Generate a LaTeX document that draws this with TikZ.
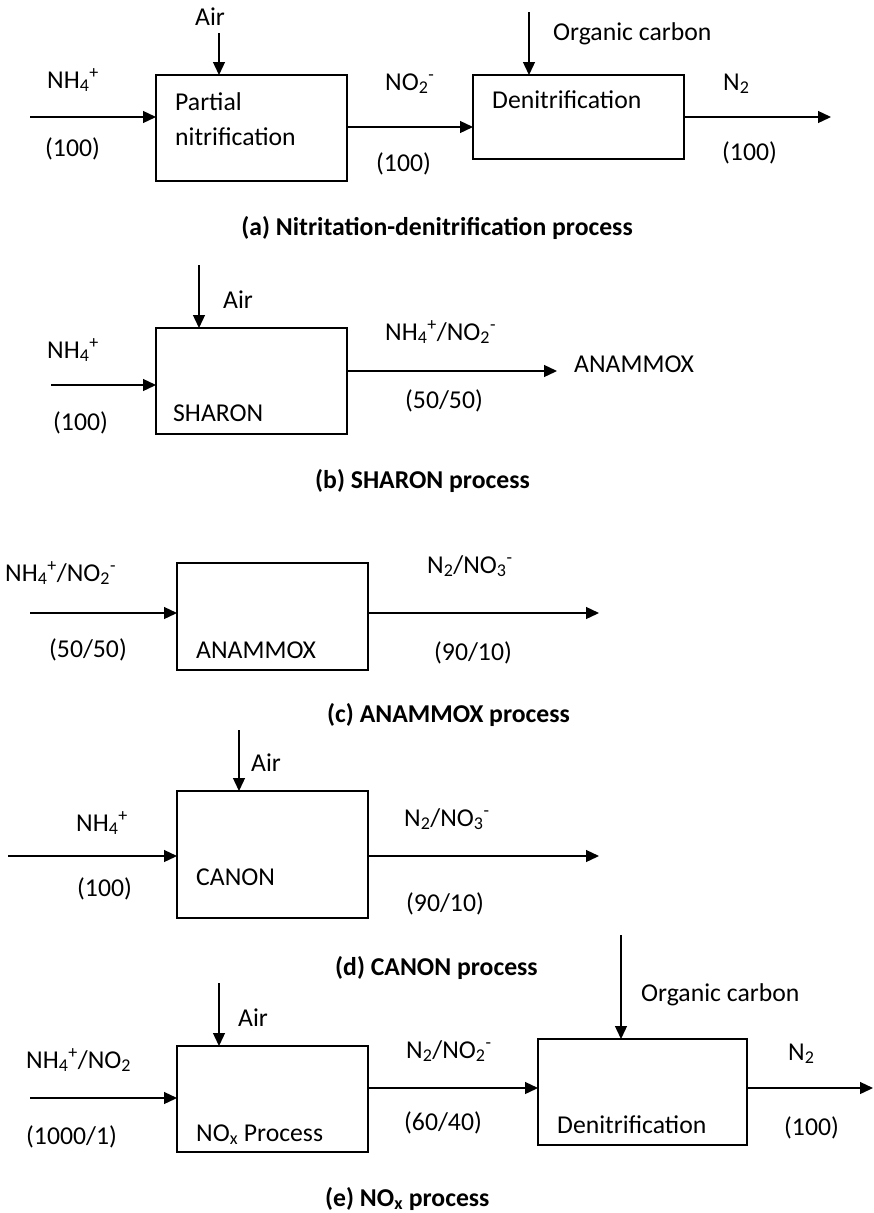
\documentclass[tikz,border=0pt]{standalone}
\usepackage{fontspec}
\setmainfont{Carlito}
\usetikzlibrary{arrows.meta}
\begin{document}
\begin{tikzpicture}[x=1pt,y=-1pt,
  lbl/.style={anchor=base west, inner sep=0pt, font=\fontsize{25.7}{30}\selectfont},
  captext/.style={anchor=base west, inner sep=0pt, font=\fontsize{25.7}{30}\selectfont\bfseries},
  box/.style={draw, line width=2pt, inner sep=0pt, outer sep=0pt},
  arr/.style={line width=1.3pt, -{Triangle[length=13pt,width=12pt]}}]
\useasboundingbox (0,0) rectangle (874,1213);

% ---------------- (a) ----------------
\node[box, minimum width=191pt, minimum height=106pt] (a1) at (251.5,128) {};
\node[box, minimum width=211pt, minimum height=84pt] (a2) at (578.5,117) {};
\coordinate (aAir) at (219,33);
\coordinate (aIn) at (30,117);
\coordinate (aOrg) at (529,12);
\coordinate (aOut) at (831,117);
\draw[arr] (aAir) -- (aAir |- a1.north);
\draw[arr] (aIn) -- (aIn -| a1.west);
\draw[arr] (a1.east |- 0,127) -- (a2.west |- 0,127);
\draw[arr] (aOrg) -- (aOrg |- a2.north);
\draw[arr] (a2.east |- aOut) -- (aOut);
\node[lbl] (aAirT) at (195,25) {Air};
\node[lbl] (aNH) at (47,88) {NH\textsubscript{4}\textsuperscript{+}};
\node[lbl] (aQ1) at (45,156) {(100)};
\node[lbl] (aP1) at (175,110) {Partial};
\node[lbl] (aP2) at (175,145) {nitrification};
\node[lbl] (aNO) at (385,90) {NO\textsubscript{2}\textsuperscript{-}};
\node[lbl] (aQ2) at (376,171) {(100)};
\node[lbl] (aOrgT) at (553,40) {Organic carbon};
\node[lbl] (aDen) at (492,108) {Denitrification};
\node[lbl] (aN2) at (723,90) {N\textsubscript{2}};
\node[lbl] (aQ3) at (722,160) {(100)};
\node[captext, anchor=base] (aCap) at (437,235) {(a) Nitritation-denitrification process};

% ---------------- (b) ----------------
\node[box, minimum width=191pt, minimum height=106pt] (b1) at (251.5,381) {};
\coordinate (bAir) at (199,265);
\coordinate (bIn) at (51,385);
\coordinate (bOut) at (557,371);
\draw[arr] (bAir) -- (bAir |- b1.north);
\draw[arr] (bIn) -- (bIn -| b1.west);
\draw[arr] (b1.east |- bOut) -- (bOut);
\node[lbl] (bAirT) at (223,308) {Air};
\node[lbl] (bNH) at (47,358) {NH\textsubscript{4}\textsuperscript{+}};
\node[lbl] (bQ1) at (53,430) {(100)};
\node[lbl] (bSh) at (173,421) {SHARON};
\node[lbl] (bNN) at (385,340) {NH\textsubscript{4}\textsuperscript{+}/NO\textsubscript{2}\textsuperscript{-}};
\node[lbl] (bQ2) at (405,408) {(50/50)};
\node[lbl] (bAn) at (574,372) {ANAMMOX};
\node[captext] (bCap) at (315,488) {(b) SHARON process};

% ---------------- (c) ----------------
\node[box, minimum width=191pt, minimum height=107pt] (c1) at (272.5,616.5) {};
\coordinate (cIn) at (30,613);
\coordinate (cOut) at (599,613);
\draw[arr] (cIn) -- (cIn -| c1.west);
\draw[arr] (c1.east |- cOut) -- (cOut);
\node[lbl] (cNN) at (5,581) {NH\textsubscript{4}\textsuperscript{+}/NO\textsubscript{2}\textsuperscript{-}};
\node[lbl] (cQ1) at (49,657) {(50/50)};
\node[lbl] (cAn) at (196,658) {ANAMMOX};
\node[lbl] (cNO) at (427,573) {N\textsubscript{2}/NO\textsubscript{3}\textsuperscript{-}};
\node[lbl] (cQ2) at (434,660) {(90/10)};
\node[captext] (cCap) at (327,722) {(c) ANAMMOX process};

% ---------------- (d) ----------------
\node[box, minimum width=191pt, minimum height=127pt] (d1) at (272.5,854.5) {};
\coordinate (dAir) at (239,730);
\coordinate (dIn) at (8,856);
\coordinate (dOut) at (599,856);
\draw[arr] (dAir) -- (dAir |- d1.north);
\draw[arr] (dIn) -- (dIn -| d1.west);
\draw[arr] (d1.east |- dOut) -- (dOut);
\node[lbl] (dAirT) at (251,771) {Air};
\node[lbl] (dNH) at (76,831) {NH\textsubscript{4}\textsuperscript{+}};
\node[lbl] (dQ1) at (77,896) {(100)};
\node[lbl] (dCa) at (196,885) {CANON};
\node[lbl] (dNO) at (404,826) {N\textsubscript{2}/NO\textsubscript{3}\textsuperscript{-}};
\node[lbl] (dQ2) at (406,911) {(90/10)};
\node[captext] (dCap) at (335,975) {(d) CANON process};

% ---------------- (e) ----------------
\node[box, minimum width=191pt, minimum height=106pt] (e1) at (272.5,1099) {};
\node[box, minimum width=209pt, minimum height=106pt] (e2) at (642.5,1092) {};
\coordinate (eAir) at (219,983);
\coordinate (eIn) at (30,1098);
\coordinate (eOrg) at (621,935);
\coordinate (eOut) at (873,1088);
\draw[arr] (eAir) -- (eAir |- e1.north);
\draw[arr] (eIn) -- (eIn -| e1.west);
\draw[arr] (e1.east |- 0,1088) -- (e2.west |- 0,1088);
\draw[arr] (eOrg) -- (eOrg |- e2.north);
\draw[arr] (e2.east |- eOut) -- (eOut);
\node[lbl] (eAirT) at (238,1026) {Air};
\node[lbl] (eNH) at (26,1068) {NH\textsubscript{4}\textsuperscript{+}/NO\textsubscript{2}};
\node[lbl] (eQ1) at (26,1144) {(1000/1)};
\node[lbl] (eNx) at (196,1141) {NO\textsubscript{x} Process};
\node[lbl] (eNO) at (406,1058) {N\textsubscript{2}/NO\textsubscript{2}\textsuperscript{-}};
\node[lbl] (eQ2) at (404,1130) {(60/40)};
\node[lbl] (eOrgT) at (641,1001) {Organic carbon};
\node[lbl] (eDen) at (557,1133) {Denitrification};
\node[lbl] (eN2) at (788,1060) {N\textsubscript{2}};
\node[lbl] (eQ3) at (784,1135) {(100)};
\node[captext] (eCap) at (325,1206) {(e) NO\textsubscript{x} process};
\end{tikzpicture}
\end{document}
